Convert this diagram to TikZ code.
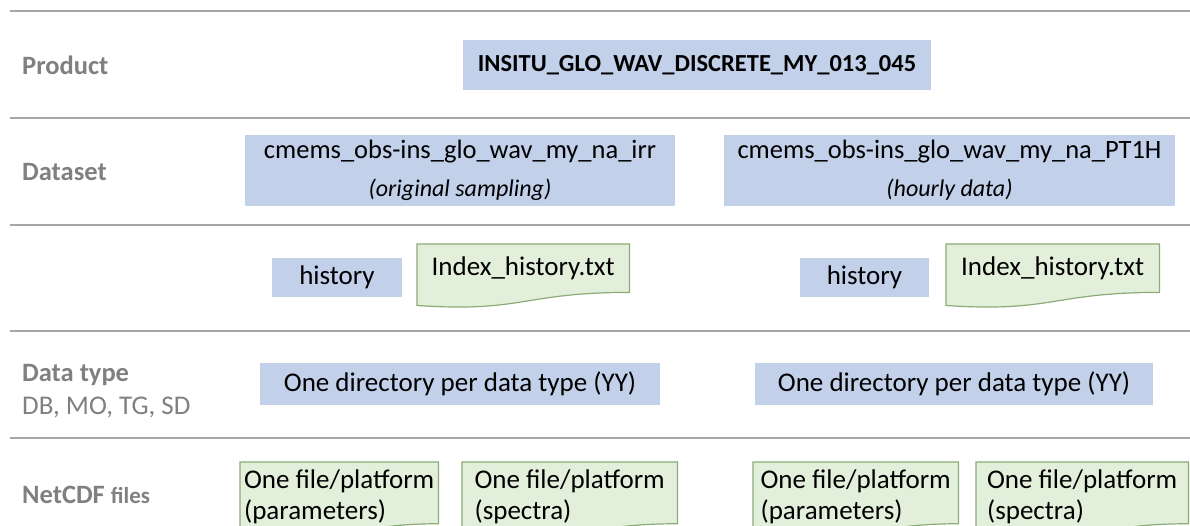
\documentclass[tikz,border=0pt]{standalone}
\usepackage{fontspec}
\setmainfont{Carlito}
\usetikzlibrary{backgrounds,calc}
\definecolor{rulegray}{RGB}{166,166,166}
\definecolor{labelgray}{RGB}{128,128,128}
\definecolor{boxblue}{RGB}{194,208,234}
\definecolor{docgreen}{RGB}{226,239,218}
\definecolor{docedge}{RGB}{140,171,120}
\tikzset{
  rowrule/.style={draw=rulegray,line width=2.2pt},
  rowlabel/.style={anchor=west,inner sep=0pt,text=labelgray,font=\fontsize{26.5}{31}\selectfont\bfseries},
  bluebox/.style={fill=boxblue,inner sep=0pt,align=center,font=\fontsize{27}{32}\selectfont},
  docbox/.style={anchor=north west,inner sep=0pt,align=left,font=\fontsize{27}{31}\selectfont},
  docline/.style={fill=docgreen,draw=docedge,line width=1.2pt},
}
\begin{document}
\begin{tikzpicture}[x=1pt,y=-1pt]
\useasboundingbox (0,0) rectangle (1190,526);
\clip (0,0) rectangle (1190,526);
%
\foreach \y in {11,118,225,331,438}
  \draw[rowrule] (10,\y)--(1190,\y);
%
\node[rowlabel] (lproduct) at (22,65) {Product};
\node[rowlabel] (ldataset) at (22,172) {Dataset};
\node[rowlabel] (ldatatype) at (22,375) {Data type};
\node[rowlabel,font=\fontsize{27}{31}\selectfont] (ltypes) at (22,407) {DB, MO, TG, SD};
\node[rowlabel] (lnetcdf) at (22,495) {NetCDF {\fontsize{23}{27}\selectfont files}};
%
\node[bluebox,minimum width=468,minimum height=50,font=\fontsize{24.5}{29}\selectfont\bfseries] (product) at (697,65) {INSITU\_GLO\_WAV\_DISCRETE\_MY\_013\_045};
\node[bluebox,minimum width=430,minimum height=71,font=\fontsize{26.5}{32}\selectfont] (ds1) at (460,170.5)
  {cmems\_obs-ins\_glo\_wav\_my\_na\_irr\\[6pt]{\fontsize{24}{28}\selectfont\itshape (original sampling)}};
\node[bluebox,minimum width=451,minimum height=71,font=\fontsize{26.5}{32}\selectfont] (ds2) at (949.5,170.5)
  {cmems\_obs-ins\_glo\_wav\_my\_na\_PT1H\\[6pt]{\fontsize{24}{28}\selectfont\itshape (hourly data)}};
%
\node[bluebox,minimum width=130,minimum height=39] (hist1) at (337,277.5) {history};
\node[bluebox,minimum width=129,minimum height=39] (hist2) at (864.5,277.5) {history};
\node[docbox,minimum width=212,minimum height=48] (idx1) at (417,244) {Index\_history.txt};
\node[docbox,minimum width=213,minimum height=48] (idx2) at (946,244) {Index\_history.txt};
%
\node[bluebox,minimum width=400,minimum height=42] (dir1) at (460,384) {One directory per data type (YY)};
\node[bluebox,minimum width=398,minimum height=42] (dir2) at (954,384) {One directory per data type (YY)};
%
\node[docbox,minimum width=198,minimum height=56] (file1) at (240,462) {\rule{0pt}{26pt}One file/platform\\(parameters)};
\node[docbox,minimum width=215,minimum height=56] (file2) at (462,462) {\rule{0pt}{26pt}One file/platform\\(spectra)};
\node[docbox,minimum width=205,minimum height=56] (file3) at (753,462) {\rule{0pt}{26pt}One file/platform\\(parameters)};
\node[docbox,minimum width=212,minimum height=56] (file4) at (976,462) {\rule{0pt}{26pt}One file/platform\\(spectra)};
%
\begin{scope}[on background layer]
\foreach \doc in {idx1,idx2,file1,file2,file3,file4}
  \draw[docline] let \p1=(\doc.north west), \p2=(\doc.south east) in
    (\p1) -- (\x2,\y1) -- (\p2)
    .. controls ({0.5*\x1+0.5*\x2},\y2) and ({0.5*\x1+0.5*\x2},{\y2-0.42*(\y1-\y2)}) ..
    (\x1,{\y2-0.27*(\y1-\y2)}) -- cycle;
\end{scope}
\end{tikzpicture}
\end{document}
